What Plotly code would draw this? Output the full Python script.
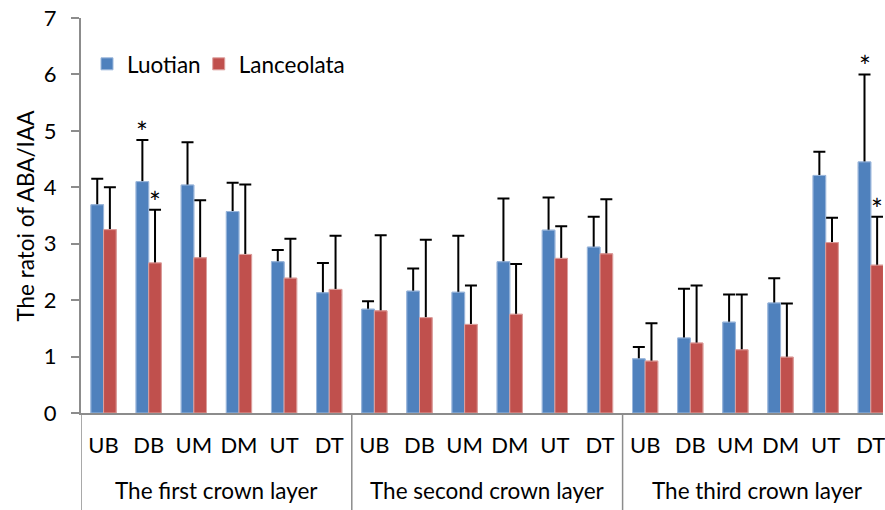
import plotly.graph_objects as go

# Crown layers and the six leaf positions sampled in each
layers = ["The first crown layer", "The second crown layer", "The third crown layer"]
positions = ["UB", "DB", "UM", "DM", "UT", "DT"]

# ABA/IAA ratio means and the upper ends of their error bars
luotian = [3.69, 4.10, 4.04, 3.57, 2.68, 2.13,
           1.84, 2.16, 2.14, 2.68, 3.24, 2.94,
           0.96, 1.33, 1.61, 1.95, 4.21, 4.45]
luotian_upper = [4.15, 4.84, 4.80, 4.08, 2.89, 2.66,
                 1.98, 2.56, 3.14, 3.80, 3.82, 3.48,
                 1.17, 2.20, 2.10, 2.39, 4.63, 6.00]
lanceolata = [3.25, 2.66, 2.75, 2.81, 2.39, 2.19,
              1.81, 1.69, 1.57, 1.75, 2.74, 2.82,
              0.92, 1.24, 1.12, 0.99, 3.02, 2.62]
lanceolata_upper = [4.00, 3.60, 3.77, 4.05, 3.09, 3.14,
                    3.15, 3.07, 2.26, 2.64, 3.31, 3.79,
                    1.59, 2.26, 2.10, 1.94, 3.46, 3.48]

# Significance marks: (category index, series)
significant = [(1, "Luotian"), (1, "Lanceolata"), (17, "Luotian"), (17, "Lanceolata")]

BLUE = "#4F81BD"
RED = "#C0504D"
FONT = "Lato"
GRAY = "#8C8C8C"

n = len(luotian)
xs = list(range(n))
ticktext = [p for _ in layers for p in positions]
bar_w = 0.28

series = [
    ("Luotian", luotian, luotian_upper, BLUE, "#9DB8DC", -bar_w, "legend"),
    ("Lanceolata", lanceolata, lanceolata_upper, RED, "#DDA09E", 0.0, "legend2"),
]

fig = go.Figure()

# Bars carrying the upper error bars
for name, vals, upper, color, edge, off, leg in series:
    fig.add_trace(go.Bar(
        x=xs, y=vals, name=name, width=bar_w, offset=off,
        marker=dict(color=color, line=dict(color=edge, width=1)),
        error_y=dict(type="data", symmetric=False,
                     array=[u - v for u, v in zip(upper, vals)],
                     arrayminus=[0.1] * n,
                     color="black", thickness=2, width=6),
        showlegend=False, hoverinfo="skip",
    ))

# Same bars again on top so only the part of each error bar above the bar shows
for name, vals, upper, color, edge, off, leg in series:
    fig.add_trace(go.Bar(
        x=xs, y=vals, name=name, width=bar_w, offset=off, legend=leg,
        marker=dict(color=color, line=dict(color=edge, width=1)),
    ))

# Asterisks above the significant error bars
upper_of = {"Luotian": luotian_upper, "Lanceolata": lanceolata_upper}
off_of = {"Luotian": -bar_w / 2, "Lanceolata": bar_w / 2}
for idx, name in significant:
    fig.add_annotation(
        x=idx + off_of[name], y=upper_of[name][idx], xref="x", yref="y",
        text="*", showarrow=False, yanchor="bottom", yshift=-11,
        font=dict(family=FONT, size=28, color="black"),
    )

# Group labels and dividers below the axis
for g, layer in enumerate(layers):
    fig.add_annotation(
        x=g * len(positions) + (len(positions) - 1) / 2, y=-0.196,
        xref="x", yref="paper", text=layer, showarrow=False,
        yanchor="middle", font=dict(family=FONT, size=22.5, color="black"),
    )
for g in range(len(layers) + 1):
    fig.add_shape(
        type="line", xref="x", yref="paper",
        x0=g * len(positions) - 0.5, x1=g * len(positions) - 0.5,
        y0=0, y1=-0.3, line=dict(color=GRAY, width=1.5),
    )

# Y-axis title
fig.add_annotation(
    x=-0.0697, y=0.5, xref="paper", yref="paper",
    text="The ratoi of ABA/IAA", textangle=-90, showarrow=False,
    xanchor="center", yanchor="middle",
    font=dict(family=FONT, size=22.5, color="black"),
)

legend_style = dict(
    orientation="h", y=0.883, xanchor="left", yanchor="middle",
    font=dict(family=FONT, size=22.5, color="black"),
    bgcolor="rgba(0,0,0,0)", itemwidth=30,
)

fig.update_layout(
    width=885, height=510,
    margin=dict(l=81, r=0, t=18, b=97),
    barmode="overlay",
    plot_bgcolor="white", paper_bgcolor="white",
    font=dict(family=FONT, size=22, color="black"),
    legend=dict(x=0.0075, **legend_style),
    legend2=dict(x=0.1468, **legend_style),
    xaxis=dict(
        range=[-0.5, 17.27], tickvals=xs, ticktext=ticktext,
        showline=True, linecolor=GRAY, linewidth=2,
        ticks="", showgrid=False, zeroline=False,
        tickfont=dict(family=FONT, size=22, color="black"),
        ticklabelstandoff=12, ticklabeloverflow="allow",
    ),
    yaxis=dict(
        range=[0, 7], dtick=1, tick0=0,
        showline=True, linecolor=GRAY, linewidth=2,
        ticks="outside", ticklen=8, tickwidth=1.5, tickcolor=GRAY,
        showgrid=False, zeroline=False,
        tickfont=dict(family=FONT, size=22, color="black"),
        ticklabelstandoff=10,
    ),
)

fig.write_html("out.html")
